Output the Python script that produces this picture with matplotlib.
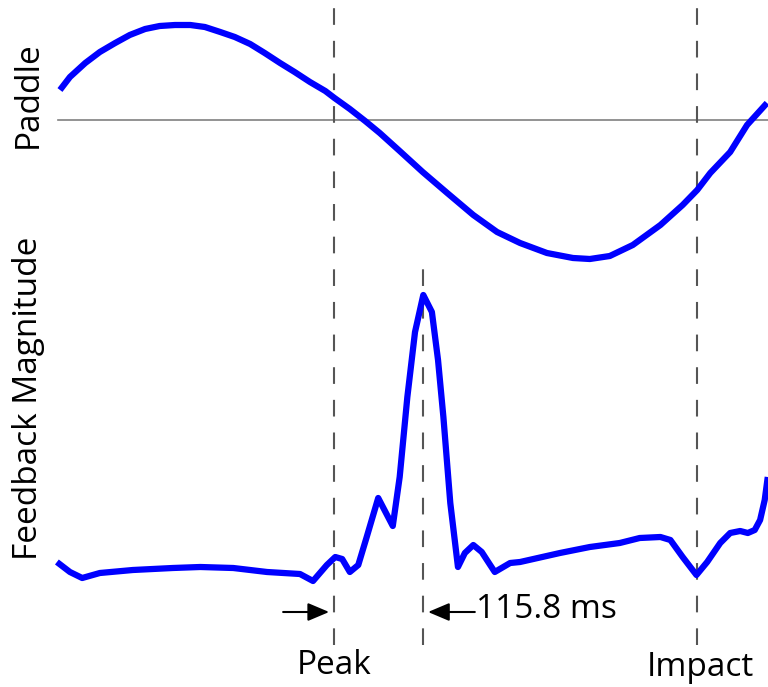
import matplotlib
matplotlib.use("Agg")
import matplotlib.pyplot as plt
import numpy as np

# paddle position (arbitrary units, 0 = rest line), time in ms from peak
paddle_t = [-358, -345, -325, -306, -286, -267, -247, -228, -208, -188, -169, -149,
            -130, -110, -91, -71, -52, -32, -12, 0, 20, 40, 59, 85, 115, 147, 181,
            212, 242, 277, 311, 333, 359, 389, 425, 454, 473, 490, 516, 538, 564]
paddle_v = [30, 43, 57, 68, 77, 85, 91, 94, 95, 95, 93, 88, 83, 76, 67, 57, 48, 38,
            29, 22, 11, -1, -13, -31, -52, -73, -95, -112, -123, -133, -138, -139,
            -136, -125, -105, -85, -70, -53, -32, -5, 17]

# feedback magnitude, time in ms from peak
fb_t = [-362, -345, -329, -306, -263, -211, -175, -132, -88, -45, -28, -10, 1, 10,
        20, 31, 42, 57, 76, 85, 95, 105, 115.8, 127, 135, 142, 151, 161, 170, 181,
        192, 203, 209, 229, 242, 294, 333, 372, 398, 425, 438, 454, 472, 486, 503,
        516, 529, 539, 548, 555, 561, 565]
fb_v = [38, 28, 22, 27, 30, 32, 33, 32, 28, 26, 19, 35, 43, 41, 28, 35, 63, 102, 74,
        123, 203, 268, 305, 288, 240, 183, 97, 33, 47, 55, 48, 35, 28, 37, 38, 47, 53,
        57, 62, 63, 60, 43, 25, 38, 57, 67, 69, 67, 70, 80, 100, 123]

peak_t = 0.0
delay_ms = 115.8
impact_t = 472.4

plt.rcParams['font.family'] = ['Open Sans', 'DejaVu Sans']
plt.rcParams['lines.scale_dashes'] = False

fig = plt.figure(figsize=(7.68, 6.87), dpi=100)
ax = fig.add_axes([0, 0, 1, 1])
ax.set_xlim(-436.2, 565.3)
ax.set_ylim(0, 687)
ax.axis('off')

paddle_off = 567
fb_off = 87

# rest line for paddle
ax.plot([-361, 565.3], [paddle_off, paddle_off], color='#808080', lw=1.2, zorder=1)

dash = dict(color='#555555', lw=1.5, linestyle=(0, (12, 11.5)), zorder=1)
ax.plot([peak_t, peak_t], [42, 679], **dash)
ax.plot([delay_ms, delay_ms], [42, 429], **dash)
ax.plot([impact_t, impact_t], [42, 679], **dash)

ax.plot(paddle_t, np.array(paddle_v) + paddle_off, color='#0000ff', lw=4.5,
        solid_joinstyle='round', solid_capstyle='butt', zorder=3)
ax.plot(fb_t, np.array(fb_v) + fb_off, color='#0000ff', lw=4.5,
        solid_joinstyle='round', solid_capstyle='butt', zorder=3)

arrow = dict(arrowstyle='-|>,head_length=1.3,head_width=0.55', color='black', lw=1.5,
             shrinkA=0, shrinkB=0)
ax.annotate('', xy=(-7, 75), xytext=(-67, 75), arrowprops=arrow)
ax.annotate('', xy=(122, 75), xytext=(183, 75), arrowprops=arrow)
ax.text(184, 77, '%.1f ms' % delay_ms, fontsize=24, ha='left', va='center')

ax.text(peak_t, 21, 'Peak', fontsize=24, ha='center', va='center')
ax.text(impact_t + 5, 20, 'Impact', fontsize=24, ha='center', va='center')

ax.text(-399, 592, 'Paddle', fontsize=24, rotation=90, ha='center', va='center')
ax.text(-399, 289, 'Feedback Magnitude', fontsize=24, rotation=90, ha='center',
        va='center')

fig.savefig('out.png', dpi=100)
